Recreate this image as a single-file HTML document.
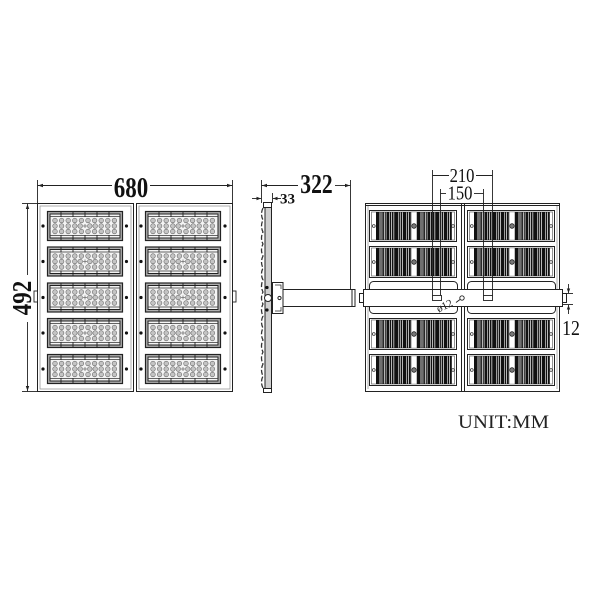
<!DOCTYPE html>
<html><head><meta charset="utf-8"><style>html,body{margin:0;padding:0;background:#fff}svg{display:block}</style></head>
<body>
<svg width="600" height="600" viewBox="0 0 600 600" xmlns="http://www.w3.org/2000/svg">
<defs>
 <g id="led">
  <rect x="0.5" y="0.5" width="75" height="29" fill="#b0b0b0" stroke="#222" stroke-width="1.2"/>
  <rect x="3" y="3" width="70" height="24" fill="#f4f4f4" stroke="#222" stroke-width="1"/>
  <line x1="3" y1="5.5" x2="73" y2="5.5" stroke="#333" stroke-width="0.8"/>
  <line x1="3" y1="24.5" x2="73" y2="24.5" stroke="#333" stroke-width="0.8"/>
  <g stroke="#222" stroke-width="0.9">
   <line x1="14" y1="1" x2="14" y2="6"/><line x1="26" y1="1" x2="26" y2="6"/><line x1="38" y1="1" x2="38" y2="6"/><line x1="50" y1="1" x2="50" y2="6"/><line x1="62" y1="1" x2="62" y2="6"/>
   <line x1="14" y1="24" x2="14" y2="29"/><line x1="26" y1="24" x2="26" y2="29"/><line x1="38" y1="24" x2="38" y2="29"/><line x1="50" y1="24" x2="50" y2="29"/><line x1="62" y1="24" x2="62" y2="29"/>
  </g>
  <g fill="#c4c4c4" stroke="#6a6a6a" stroke-width="0.6">
   <circle cx="8" cy="9.5" r="2.3"/><circle cx="14.6" cy="9.5" r="2.3"/><circle cx="21.2" cy="9.5" r="2.3"/><circle cx="27.8" cy="9.5" r="2.3"/><circle cx="34.4" cy="9.5" r="2.3"/><circle cx="41" cy="9.5" r="2.3"/><circle cx="47.6" cy="9.5" r="2.3"/><circle cx="54.2" cy="9.5" r="2.3"/><circle cx="60.8" cy="9.5" r="2.3"/><circle cx="67.4" cy="9.5" r="2.3"/>
   <circle cx="8" cy="15" r="2.3"/><circle cx="14.6" cy="15" r="2.3"/><circle cx="21.2" cy="15" r="2.3"/><circle cx="27.8" cy="15" r="2.3"/><circle cx="33.2" cy="15" r="2.3"/><circle cx="42.8" cy="15" r="2.3"/><circle cx="48.2" cy="15" r="2.3"/><circle cx="54.2" cy="15" r="2.3"/><circle cx="60.8" cy="15" r="2.3"/><circle cx="67.4" cy="15" r="2.3"/>
   <circle cx="8" cy="20.5" r="2.3"/><circle cx="14.6" cy="20.5" r="2.3"/><circle cx="21.2" cy="20.5" r="2.3"/><circle cx="27.8" cy="20.5" r="2.3"/><circle cx="34.4" cy="20.5" r="2.3"/><circle cx="41" cy="20.5" r="2.3"/><circle cx="47.6" cy="20.5" r="2.3"/><circle cx="54.2" cy="20.5" r="2.3"/><circle cx="60.8" cy="20.5" r="2.3"/><circle cx="67.4" cy="20.5" r="2.3"/>
  </g>
  <g stroke="#666" stroke-width="0.7"><line x1="36" y1="15" x2="40" y2="15"/><line x1="38" y1="13" x2="38" y2="17"/></g>
 </g>
 <g id="st" fill="#111">
  <rect x="0" y="2" width="3.6" height="28"/><rect x="4.4" y="2" width="1.2" height="28"/><rect x="6.3" y="2" width="1.6" height="28"/><rect x="8.7" y="2" width="1.1" height="28"/><rect x="10.4" y="2" width="3" height="28"/><rect x="14" y="2" width="1.3" height="28"/><rect x="16" y="2" width="1.5" height="28"/><rect x="18.2" y="2" width="3.8" height="28"/><rect x="22.6" y="2" width="1.3" height="28"/><rect x="24.6" y="2" width="1.7" height="28"/><rect x="27" y="2" width="3.2" height="28"/><rect x="30.8" y="2" width="1.3" height="28"/><rect x="32.8" y="2" width="2" height="28"/>
 </g>
 <g id="fin">
  <rect x="0.5" y="0.5" width="87" height="31" fill="#fff" stroke="#222" stroke-width="1"/>
  <rect x="2.5" y="2" width="83" height="28" fill="none" stroke="#666" stroke-width="0.7"/>
  <use href="#st" x="7" y="0"/>
  <use href="#st" x="48" y="0"/>
  <rect x="42.5" y="2" width="5" height="28" fill="#fff" stroke="#888" stroke-width="0.5"/>
  <circle cx="45" cy="16" r="2.3" fill="#777" stroke="#222" stroke-width="0.8"/>
  <circle cx="4.8" cy="16" r="1.4" fill="none" stroke="#333" stroke-width="0.8"/>
  <circle cx="84" cy="16" r="1.4" fill="none" stroke="#333" stroke-width="0.8"/>
 </g>
</defs>

<rect width="600" height="600" fill="#fff"/>

<!-- ============ LEFT VIEW ============ -->
<g fill="none" stroke="#222" stroke-width="1">
 <rect x="37.5" y="203.5" width="96" height="188"/>
 <rect x="136.5" y="203.5" width="96" height="188"/>
</g>
<g fill="none" stroke="#999" stroke-width="0.8">
 <rect x="40" y="206" width="91" height="183"/>
 <rect x="139" y="206" width="91" height="183"/>
</g>
<use href="#led" x="47" y="211"/><use href="#led" x="47" y="246.5"/><use href="#led" x="47" y="282.5"/><use href="#led" x="47" y="318"/><use href="#led" x="47" y="354"/>
<use href="#led" x="145" y="211"/><use href="#led" x="145" y="246.5"/><use href="#led" x="145" y="282.5"/><use href="#led" x="145" y="318"/><use href="#led" x="145" y="354"/>
<g fill="#111">
 <circle cx="43" cy="226" r="1.6"/><circle cx="43" cy="261.5" r="1.6"/><circle cx="43" cy="297.5" r="1.6"/><circle cx="43" cy="333" r="1.6"/><circle cx="43" cy="369" r="1.6"/>
 <circle cx="126.5" cy="226" r="1.6"/><circle cx="126.5" cy="261.5" r="1.6"/><circle cx="126.5" cy="297.5" r="1.6"/><circle cx="126.5" cy="333" r="1.6"/><circle cx="126.5" cy="369" r="1.6"/>
 <circle cx="141" cy="226" r="1.6"/><circle cx="141" cy="261.5" r="1.6"/><circle cx="141" cy="297.5" r="1.6"/><circle cx="141" cy="333" r="1.6"/><circle cx="141" cy="369" r="1.6"/>
 <circle cx="225" cy="226" r="1.6"/><circle cx="225" cy="261.5" r="1.6"/><circle cx="225" cy="297.5" r="1.6"/><circle cx="225" cy="333" r="1.6"/><circle cx="225" cy="369" r="1.6"/>
</g>
<g fill="#fff" stroke="#222" stroke-width="0.9">
 <rect x="34" y="291" width="3.5" height="11"/>
 <rect x="232.5" y="291" width="3.5" height="11"/>
</g>
<!-- 680 dim -->
<g stroke="#222" stroke-width="0.9" fill="none">
 <line x1="37.5" y1="180" x2="37.5" y2="203"/>
 <line x1="232.5" y1="180" x2="232.5" y2="203"/>
 <line x1="37.5" y1="185.5" x2="112" y2="185.5"/>
 <line x1="150" y1="185.5" x2="232.5" y2="185.5"/>
 <line x1="22" y1="203.5" x2="37" y2="203.5"/>
 <line x1="22" y1="391.5" x2="37" y2="391.5"/>
 <line x1="27.5" y1="203.5" x2="27.5" y2="275"/>
 <line x1="27.5" y1="322" x2="27.5" y2="391.5"/>
</g>
<g fill="#222">
 <polygon points="38,185.5 43,183.8 43,187.2"/>
 <polygon points="232,185.5 227,183.8 227,187.2"/>
 <polygon points="27.5,204 25.8,209 29.2,209"/>
 <polygon points="27.5,391 25.8,386 29.2,386"/>
</g>
<text transform="translate(131,197) scale(0.82,1)" text-anchor="middle" font-family="Liberation Serif, serif" font-weight="bold" font-size="28" fill="#111">680</text>
<text transform="translate(31,298) rotate(-90) scale(0.85,1)" text-anchor="middle" font-family="Liberation Serif, serif" font-weight="bold" font-size="27" fill="#111">492</text>

<!-- ============ SIDE VIEW ============ -->
<rect x="265" y="205" width="6" height="186" fill="#d0d0d0"/>
<g stroke="#222" stroke-width="1" fill="none">
 <line x1="271.5" y1="203" x2="271.5" y2="392"/>
 <line x1="265" y1="205" x2="265" y2="390"/>
 <rect x="263.5" y="202.5" width="8" height="5" fill="#fff"/>
 <rect x="263.5" y="388.5" width="8" height="4" fill="#fff"/>
</g>
<path d="M263 208 Q260 214 263 220 Q260 226 263 232 Q260 238 263 244 Q260 250 263 256 Q260 262 263 268 Q260 274 263 280 Q260 286 263 292 Q260 298 263 304 Q260 310 263 316 Q260 322 263 328 Q260 334 263 340 Q260 346 263 352 Q260 358 263 364 Q260 370 263 376 Q260 382 263 388" fill="none" stroke="#333" stroke-width="1.3" stroke-dasharray="5 2"/>
<rect x="272.5" y="282.5" width="10.5" height="31" fill="#fff" stroke="#222" stroke-width="1"/>
<rect x="283" y="289.5" width="72" height="17" fill="#fff" stroke="#222" stroke-width="1"/>
<line x1="352" y1="289.5" x2="352" y2="306.5" stroke="#222" stroke-width="1"/>
<circle cx="268" cy="298" r="3.5" fill="#fff" stroke="#222" stroke-width="1"/>
<circle cx="279.5" cy="298" r="1.6" fill="#fff" stroke="#222" stroke-width="1"/>
<path d="M275 285 L281 285 L281 289" fill="none" stroke="#222" stroke-width="0.7"/>
<path d="M275 311 L281 311 L281 307" fill="none" stroke="#222" stroke-width="0.7"/>
<g fill="#111"><circle cx="267" cy="287.5" r="1.6"/><circle cx="267" cy="310" r="1.6"/></g>
<!-- 322/33 dims -->
<g stroke="#222" stroke-width="0.9" fill="none">
 <line x1="261.5" y1="180" x2="261.5" y2="203"/>
 <line x1="350.5" y1="180" x2="350.5" y2="289"/>
 <line x1="261.5" y1="185.5" x2="298" y2="185.5"/>
 <line x1="335" y1="185.5" x2="350.5" y2="185.5"/>
 <line x1="272.5" y1="193" x2="272.5" y2="203"/>
 <line x1="252" y1="198.5" x2="261" y2="198.5"/>
 <line x1="273" y1="198.5" x2="281" y2="198.5"/>
</g>
<g fill="#222">
 <polygon points="262,185.5 267,183.8 267,187.2"/>
 <polygon points="350,185.5 345,183.8 345,187.2"/>
 <polygon points="261,198.5 256.5,196.8 256.5,200.2"/>
 <polygon points="273,198.5 277.5,196.8 277.5,200.2"/>
</g>
<text transform="translate(316.5,193) scale(0.8,1)" text-anchor="middle" font-family="Liberation Serif, serif" font-weight="bold" font-size="27" fill="#111">322</text>
<text x="287.5" y="203.5" text-anchor="middle" font-family="Liberation Serif, serif" font-weight="bold" font-size="15" fill="#111">33</text>

<!-- ============ RIGHT VIEW ============ -->
<g fill="none" stroke="#222" stroke-width="1">
 <rect x="365.5" y="203.5" width="194" height="188"/>
 <line x1="365.5" y1="205.5" x2="559.5" y2="205.5"/>
 <line x1="461.5" y1="203.5" x2="461.5" y2="391.5"/>
 <line x1="464.5" y1="203.5" x2="464.5" y2="391.5"/>
</g>
<g fill="none" stroke="#999" stroke-width="0.8">
 <line x1="368" y1="206" x2="368" y2="389"/>
 <line x1="557" y1="206" x2="557" y2="389"/>
</g>
<use href="#fin" x="369" y="210"/><use href="#fin" x="369" y="246"/><use href="#fin" x="369" y="318"/><use href="#fin" x="369" y="354"/>
<use href="#fin" x="467" y="210"/><use href="#fin" x="467" y="246"/><use href="#fin" x="467" y="318"/><use href="#fin" x="467" y="354"/>
<g fill="#fff" stroke="#222" stroke-width="1">
 <rect x="369.5" y="281.5" width="88" height="32" rx="4"/>
 <rect x="467.5" y="281.5" width="88" height="32" rx="4"/>
 <rect x="363.5" y="289.5" width="199" height="17"/>
 <rect x="359.5" y="293.5" width="4" height="9"/>
 <rect x="562.5" y="293.5" width="4" height="9"/>
</g>
<!-- 210/150 dims -->
<g stroke="#222" stroke-width="0.9" fill="none">
 <line x1="432.5" y1="170" x2="432.5" y2="296"/>
 <line x1="492.5" y1="170" x2="492.5" y2="296"/>
 <line x1="440.5" y1="189" x2="440.5" y2="296"/>
 <line x1="483.5" y1="189" x2="483.5" y2="296"/>
 <line x1="432.5" y1="175.5" x2="449" y2="175.5"/>
 <line x1="476" y1="175.5" x2="492.5" y2="175.5"/>
 <line x1="440.5" y1="193.5" x2="446" y2="193.5"/>
 <line x1="474" y1="193.5" x2="483.5" y2="193.5"/>
 <rect x="432.5" y="295.5" width="9" height="5" fill="#fff"/>
 <rect x="483.5" y="295.5" width="9" height="5" fill="#fff"/>
 <circle cx="462" cy="298" r="2.2"/>
 <line x1="456" y1="302.5" x2="460" y2="299.5"/>
</g>
<text transform="translate(462,182) scale(0.83,1)" text-anchor="middle" font-family="Liberation Serif, serif" font-size="20" fill="#111">210</text>
<text transform="translate(460,199.5) scale(0.83,1)" text-anchor="middle" font-family="Liberation Serif, serif" font-size="20" fill="#111">150</text>
<text transform="translate(446,309) rotate(-25)" text-anchor="middle" font-family="Liberation Serif, serif" font-size="11" fill="#222">ø12</text>
<!-- 12 dim -->
<g stroke="#222" stroke-width="0.9" fill="none">
 <line x1="562" y1="293.5" x2="573" y2="293.5"/>
 <line x1="562" y1="304.5" x2="573" y2="304.5"/>
 <line x1="568.5" y1="284" x2="568.5" y2="293"/>
 <line x1="568.5" y1="305" x2="568.5" y2="314"/>
</g>
<g fill="#222">
 <polygon points="568.5,293 566.8,288.5 570.2,288.5"/>
 <polygon points="568.5,305 566.8,309.5 570.2,309.5"/>
</g>
<text transform="translate(571,335) scale(0.85,1)" text-anchor="middle" font-family="Liberation Serif, serif" font-size="21" fill="#111">12</text>

<text x="458" y="428" font-family="Liberation Serif, serif" font-size="19" fill="#222" textLength="91" lengthAdjust="spacingAndGlyphs">UNIT:MM</text>
</svg>
</body></html>
